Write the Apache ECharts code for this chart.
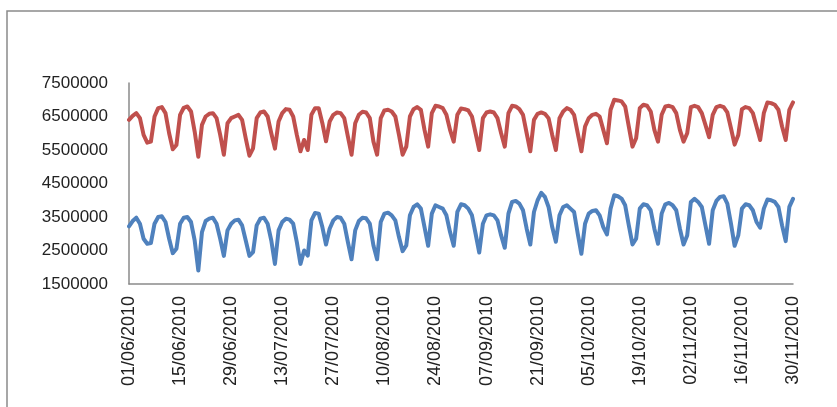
<!DOCTYPE html>
<html>
<head>
<meta charset="utf-8">
<script src="https://cdn.jsdelivr.net/npm/echarts@6/dist/echarts.min.js"></script>
<style>
  html, body { margin: 0; padding: 0; background: #fff; }
  #chart { width: 837px; height: 407px; }
</style>
</head>
<body>
<div id="chart"></div>
<script>
// daily values, 01/06/2010 .. 30/11/2010
var redValues = [
  6400000, 6520000, 6600000, 6450000, 5950000, 5720000,
  5750000, 6500000, 6750000, 6780000, 6600000, 6000000, 5520000,
  5650000, 6550000, 6760000, 6800000, 6650000, 6050000, 5300000,
  6250000, 6500000, 6580000, 6600000, 6450000, 5950000, 5360000,
  6300000, 6450000, 6500000, 6550000, 6400000, 5850000, 5330000,
  5550000, 6450000, 6620000, 6650000, 6500000, 6000000, 5540000,
  6350000, 6600000, 6720000, 6700000, 6500000, 5950000, 5460000,
  5800000, 5500000, 6550000, 6750000, 6750000, 6300000, 5760000,
  6350000, 6550000, 6620000, 6600000, 6450000, 5900000, 5360000,
  6300000, 6550000, 6640000, 6620000, 6450000, 5750000, 5360000,
  6450000, 6680000, 6700000, 6650000, 6500000, 5950000, 5360000,
  5600000, 6500000, 6720000, 6780000, 6700000, 6100000, 5600000,
  6600000, 6820000, 6800000, 6750000, 6550000, 6100000, 5750000,
  6550000, 6740000, 6720000, 6680000, 6500000, 6000000, 5500000,
  6450000, 6620000, 6650000, 6620000, 6450000, 6000000, 5600000,
  6600000, 6820000, 6800000, 6720000, 6550000, 6000000, 5460000,
  6400000, 6580000, 6620000, 6580000, 6450000, 5950000, 5500000,
  6450000, 6650000, 6750000, 6700000, 6550000, 6000000, 5460000,
  6200000, 6450000, 6550000, 6580000, 6500000, 6100000, 5700000,
  6700000, 7000000, 6980000, 6950000, 6800000, 6200000, 5600000,
  5850000, 6750000, 6850000, 6820000, 6650000, 6100000, 5750000,
  6550000, 6800000, 6820000, 6780000, 6600000, 6100000, 5750000,
  6000000, 6780000, 6820000, 6780000, 6600000, 6250000, 5880000,
  6550000, 6780000, 6820000, 6780000, 6620000, 6150000, 5660000,
  5950000, 6720000, 6780000, 6750000, 6600000, 6200000, 5800000,
  6600000, 6920000, 6900000, 6850000, 6700000, 6200000, 5800000,
  6700000, 6920000
];
var blueValues = [
  3220000, 3380000, 3480000, 3300000, 2850000, 2700000,
  2720000, 3300000, 3500000, 3520000, 3350000, 2850000, 2420000,
  2550000, 3300000, 3480000, 3500000, 3350000, 2800000, 1900000,
  3050000, 3380000, 3450000, 3480000, 3300000, 2850000, 2340000,
  3100000, 3300000, 3400000, 3420000, 3250000, 2800000, 2340000,
  2450000, 3250000, 3450000, 3480000, 3300000, 2800000, 2100000,
  3100000, 3350000, 3450000, 3420000, 3300000, 2750000, 2100000,
  2500000, 2350000, 3400000, 3620000, 3600000, 3200000, 2680000,
  3150000, 3400000, 3500000, 3480000, 3300000, 2750000, 2240000,
  3100000, 3380000, 3480000, 3460000, 3300000, 2650000, 2240000,
  3350000, 3600000, 3630000, 3550000, 3400000, 2900000, 2480000,
  2650000, 3550000, 3800000, 3880000, 3750000, 3200000, 2640000,
  3600000, 3850000, 3800000, 3750000, 3550000, 3050000, 2640000,
  3650000, 3880000, 3850000, 3750000, 3550000, 3000000, 2440000,
  3300000, 3550000, 3580000, 3550000, 3400000, 2950000, 2580000,
  3600000, 3950000, 3980000, 3900000, 3700000, 3150000, 2680000,
  3650000, 4000000, 4220000, 4100000, 3800000, 3200000, 2760000,
  3550000, 3800000, 3850000, 3750000, 3650000, 3000000, 2400000,
  3300000, 3600000, 3680000, 3700000, 3550000, 3200000, 2980000,
  3750000, 4150000, 4120000, 4050000, 3850000, 3250000, 2680000,
  2850000, 3750000, 3880000, 3850000, 3700000, 3150000, 2700000,
  3600000, 3880000, 3920000, 3850000, 3700000, 3150000, 2680000,
  2950000, 3950000, 4040000, 3950000, 3800000, 3250000, 2700000,
  3700000, 3980000, 4100000, 4120000, 3900000, 3300000, 2640000,
  2950000, 3750000, 3880000, 3850000, 3700000, 3350000, 3180000,
  3750000, 4020000, 4000000, 3950000, 3800000, 3250000, 2780000,
  3800000, 4040000
];
var yTicks = [1500000, 2500000, 3500000, 4500000, 5500000, 6500000, 7500000];

// categories: one per day
var days = [];
for (var i = 0; i < redValues.length; i++) {
  var d = new Date(Date.UTC(2010, 5, 1 + i));
  var dd = ('0' + d.getUTCDate()).slice(-2);
  var mm = ('0' + (d.getUTCMonth() + 1)).slice(-2);
  days.push(dd + '/' + mm + '/' + d.getUTCFullYear());
}

var myChart = echarts.init(document.getElementById('chart'));
var option = {
  animation: false,
  backgroundColor: '#fff',
  graphic: [{
    type: 'rect',
    shape: { x: 7, y: 11, width: 850, height: 420 },
    style: { fill: 'none', stroke: '#8a8a8a', lineWidth: 1.5 },
    silent: true
  }],
  grid: { left: 129, right: 44, top: 83, bottom: 123 },
  xAxis: {
    type: 'category',
    data: days,
    boundaryGap: false,
    axisLine: { lineStyle: { color: '#8a8a8a', width: 1.5 } },
    axisTick: { show: false },
    axisLabel: {
      interval: 13,
      rotate: 90,
      margin: 12,
      color: '#222',
      fontFamily: 'Liberation Sans',
      fontSize: 18
    }
  },
  yAxis: {
    type: 'value',
    min: 1500000,
    max: 7500000,
    interval: 500000,
    axisLine: { show: true, lineStyle: { color: '#8a8a8a', width: 1.5 } },
    axisTick: { show: false },
    splitLine: { show: false },
    axisLabel: {
      margin: 21,
      color: '#222',
      fontFamily: 'Liberation Sans',
      fontSize: 17,
      formatter: function (v) { return yTicks.indexOf(v) >= 0 ? String(v) : ''; }
    }
  },
  series: [
    {
      name: 'red',
      type: 'line',
      data: redValues,
      symbol: 'none',
      lineStyle: { color: '#C0504D', width: 4, join: 'round', cap: 'round' }
    },
    {
      name: 'blue',
      type: 'line',
      data: blueValues,
      symbol: 'none',
      lineStyle: { color: '#4F81BD', width: 4, join: 'round', cap: 'round' }
    }
  ]
};
myChart.setOption(option);
</script>
</body>
</html>
